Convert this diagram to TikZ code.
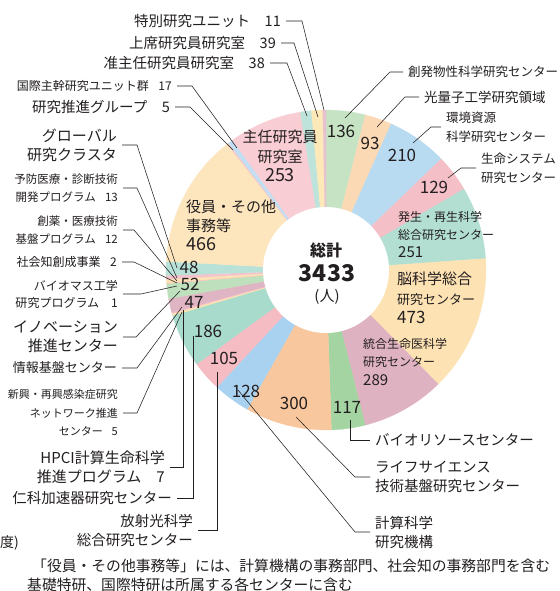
\documentclass[tikz,border=0pt]{standalone}
\usepackage{fontspec}
\setmainfont{Noto Sans CJK JP}
\definecolor{txt}{HTML}{231F20}
\definecolor{grnA}{HTML}{C6E4C4}
\definecolor{pchA}{HTML}{FCD9B5}
\definecolor{bluA}{HTML}{B9DBF1}
\definecolor{pnkA}{HTML}{F5BFC7}
\definecolor{telA}{HTML}{B2DFD2}
\definecolor{ylwA}{HTML}{FDE2B3}
\definecolor{mveA}{HTML}{DFB2C1}
\definecolor{grnB}{HTML}{A5D4A3}
\definecolor{orgA}{HTML}{F9C79D}
\definecolor{bluB}{HTML}{A9D2F0}
\definecolor{pnkB}{HTML}{F6BCC4}
\definecolor{telB}{HTML}{A8DBCC}
\definecolor{ylwB}{HTML}{FDE3B0}
\definecolor{pnkC}{HTML}{F4C0C8}
\definecolor{mveB}{HTML}{E0B5C3}
\definecolor{grnC}{HTML}{BFE0BD}
\definecolor{pchB}{HTML}{FCD9B5}
\definecolor{pnkD}{HTML}{F6BCC4}
\definecolor{ylwC}{HTML}{FDE2B3}
\definecolor{pnkE}{HTML}{F5C3CB}
\definecolor{telC}{HTML}{B8E2D8}
\definecolor{ylwD}{HTML}{FDE5BD}
\definecolor{pnkF}{HTML}{F5C6CC}
\definecolor{bluC}{HTML}{C2DEF3}
\definecolor{pnkG}{HTML}{F9CDD4}
\definecolor{telD}{HTML}{BDE3DA}
\definecolor{ylwE}{HTML}{FDE8B8}
\definecolor{mveC}{HTML}{E7C2CE}
\newcommand{\fs}[2]{\fontsize{#1}{#2}\selectfont}
\tikzstyle{lbl}=[inner sep=0pt,text=txt]
\tikzstyle{num}=[inner sep=0pt,text=txt,font=\fs{17}{17}]
\tikzstyle{lead}=[draw=txt,line width=0.55pt]

\begin{document}
\begin{tikzpicture}[x=1pt,y=-1pt]
    \useasboundingbox (0,0) rectangle (559,591);
    \fill[white] (0,0) rectangle (559,591);
    \coordinate (ctr) at (326,270);
    %Slices, clockwise from the top
    \def\cum{0}
    \foreach \val/\col in {136/grnA,93/pchA,210/bluA,129/pnkA,251/telA,473/ylwA,
                           289/mveA,117/grnB,300/orgA,128/bluB,105/pnkB,186/telB,
                           7/ylwB,5/pnkC,47/mveB,52/grnC,1/pchB,2/pnkD,12/ylwC,13/pnkE,
                           48/telC,466/ylwD,5/pnkF,17/bluC,253/pnkG,38/telD,39/ylwE,11/mveC}{
        \pgfmathsetmacro{\angA}{\cum/3433*360-90}
        \pgfmathsetmacro{\angB}{(\cum+\val)/3433*360-90}
        \filldraw[fill=\col,draw=\col,line width=0.2pt] (ctr) -- ++(\angA:160)
            arc[start angle=\angA,end angle=\angB,radius=160] -- cycle;
        \pgfmathtruncatemacro{\nxt}{\cum+\val}
        \xdef\cum{\nxt}
    }
    \fill[white] (ctr) circle[radius=63];
    %Total
    \node[lbl,font=\bfseries\fs{16}{16}] (sokei) at (326,250) {総計};
    \node[lbl,font=\bfseries\fs{23}{23}] (total) at (327,273) {3433};
    \node[lbl,font=\fs{15}{15}] (unit) at (327,297) {(人)};
    %Numbers on the ring
    \foreach \pos/\name/\txt in {{(341,131)/n136/136}, {(370,143)/n93/93}, {(402,155)/n210/210},
                                 {(434,187)/n129/129}, {(347,407)/n117/117}, {(294,403)/n300/300},
                                 {(246,391)/n128/128}, {(224,358)/n105/105}, {(208,331)/n186/186},
                                 {(194,302)/n47/47}, {(190,284)/n52/52}, {(189,267)/n48/48}}
    \node[num] (\name) at \pos {\txt};
    %Blocks inside the ring
    \node[lbl,align=center,font=\fs{15}{19.5}] (shunin) at (280,156)
        {主任研究員\\研究室\\{\fs{18}{18}253}};
    \node[lbl,align=left,anchor=west,font=\fs{15}{19}] (yakuin) at (186,225)
        {役員・その他\\事務等\\{\fs{18}{18}466}};
    \node[lbl,align=left,anchor=west,font=\fs{12}{18}] (hassei) at (398,235)
        {発生・再生科学\\総合研究センター\\{\fs{15}{15}251}};
    \node[lbl,align=left,anchor=west,font=\fs{13}{19.5}] (nou) at (397,298)
        {{\fs{15}{15}脳科学総合}\\研究センター\\{\fs{17}{17}473}};
    \node[lbl,align=left,anchor=west,font=\fs{12}{18.5}] (tougou) at (363,362)
        {統合生命医科学\\研究センター\\{\fs{15}{15}289}};
    %Labels above left
    \node[lbl,anchor=east,font=\fs{14.5}{18}] (tokubetsu) at (281,21) {特別研究ユニット\hspace{1em}11};
    \node[lbl,anchor=east,font=\fs{14.5}{18}] (joseki) at (276,43) {上席研究員研究室\hspace{1em}39};
    \node[lbl,anchor=east,font=\fs{14.5}{18}] (junshunin) at (265,63) {准主任研究員研究室\hspace{1em}38};
    \node[lbl,anchor=east,font=\fs{12}{16}] (kokusai) at (172,86) {国際主幹研究ユニット群\hspace{0.8em}17};
    \node[lbl,anchor=east,font=\fs{14.5}{18}] (suishin) at (170,107) {研究推進グループ\hspace{1em}5};
    %Labels left
    \node[lbl,anchor=east,align=right,font=\fs{15}{19}] (global) at (117,145) {グローバル\\研究クラスタ};
    \node[lbl,anchor=east,align=right,font=\fs{11.5}{18}] (yobou) at (118,188) {予防医療・診断技術\\開発プログラム\hspace{0.8em}13};
    \node[lbl,anchor=east,align=right,font=\fs{11.5}{18}] (souyaku) at (118,230) {創薬・医療技術\\基盤プログラム\hspace{0.8em}12};
    \node[lbl,anchor=east,font=\fs{12}{16}] (shakai) at (117,262) {社会知創成事業\hspace{0.8em}2};
    \node[lbl,anchor=east,align=right,font=\fs{12}{17}] (biomass) at (118,294) {バイオマス工学\\研究プログラム\hspace{1em}1};
    \node[lbl,anchor=east,align=right,font=\fs{15}{19}] (innov) at (118,337) {イノベーション\\推進センター};
    \node[lbl,anchor=east,font=\fs{13}{16}] (jouhou) at (117,368) {情報基盤センター};
    \node[lbl,anchor=east,align=right,font=\fs{11}{18.5}] (shinkou) at (118,413) {新興・再興感染症研究\\ネットワーク推進\\センター\hspace{0.8em}5};
    \node[lbl,anchor=east,align=right,font=\fs{15}{19}] (hpci) at (165,467) {HPCI計算生命科学\\推進プログラム\hspace{1em}7};
    \node[lbl,anchor=east,font=\fs{14.5}{18}] (nishina) at (172,498) {仁科加速器研究センター};
    \node[lbl,anchor=east,align=right,font=\fs{14.5}{19}] (houshakou) at (193,530) {放射光科学\\総合研究センター};
    \node[lbl,anchor=east,font=\fs{14}{18}] (nendo) at (19,543) {度)};
    %Labels right
    \node[lbl,anchor=west,font=\fs{12.5}{16}] (souhatsu) at (408,72) {創発物性科学研究センター};
    \node[lbl,anchor=west,font=\fs{13.5}{16}] (kouryoushi) at (424,97) {光量子工学研究領域};
    \node[lbl,anchor=west,align=left,font=\fs{12.5}{19}] (kankyou) at (446,127) {環境資源\\科学研究センター};
    \node[lbl,anchor=west,align=left,font=\fs{12.5}{19}] (seimei) at (481,168) {生命システム\\研究センター};
    \node[lbl,anchor=west,font=\fs{14.5}{18}] (bioresource) at (375,440) {バイオリソースセンター};
    \node[lbl,anchor=west,align=left,font=\fs{14.5}{19}] (lifesci) at (375,477) {ライフサイエンス\\技術基盤研究センター};
    \node[lbl,anchor=west,align=left,font=\fs{14.5}{19}] (keisan) at (375,532) {計算科学\\研究機構};
    %Notes
    \node[lbl,anchor=west,font=\fs{14.8}{18}] (note1) at (32,566) {「役員・その他事務等」には、計算機構の事務部門、社会知の事務部門を含む};
    \node[lbl,anchor=west,font=\fs{14.8}{18}] (note2) at (27,585) {基礎特研、国際特研は所属する各センターに含む};
    %Leader ends on the ring
    \coordinate (pTok) at (324,110);
    \coordinate (pJos) at (318,117);
    \coordinate (pJun) at (307,116);
    \coordinate (pKok) at (237,148);
    \coordinate (pSui) at (233,150);
    \coordinate (pGlo) at (177,268);
    \coordinate (pYob) at (177,278);
    \coordinate (pSou) at (177,281);
    \coordinate (pSha) at (177,283);
    \coordinate (pBio) at (177,286);
    \coordinate (pInn) at (180,291);
    \coordinate (pJou) at (182,307);
    \coordinate (pShi) at (182,312);
    \coordinate (pHpc) at (183,310);
    \coordinate (pNis) at (193,336);
    \coordinate (pHou) at (217,372);
    \coordinate (pSoh) at (345,118);
    \coordinate (pKou) at (377,127);
    \coordinate (pKan) at (413,143);
    \coordinate (pSei) at (448,178);
    \coordinate (pRes) at (350,420);
    \coordinate (pLif) at (296,417);
    \coordinate (pKei) at (238,390);
    %Leaders
    \foreach \lab/\tgt/\len in {tokubetsu/pTok/16, joseki/pJos/13, junshunin/pJun/17, kokusai/pKok/15,
                                suishin/pSui/15, global/pGlo/15, yobou/pYob/14, souyaku/pSou/11,
                                shakai/pSha/12, biomass/pBio/18, innov/pInn/13, jouhou/pJou/15,
                                shinkou/pShi/14}
    \draw[lead] ([xshift=5]\lab.east) -- ++(\len,0) -- (\tgt);
    \foreach \lab/\tgt/\len in {souhatsu/pSoh/13, kouryoushi/pKou/14, kankyou/pKan/10,
                                seimei/pSei/15, lifesci/pLif/15, keisan/pKei/15}
    \draw[lead] ([xshift=-5]\lab.west) -- ++(-\len,0) -- (\tgt);
    \draw[lead] ([xshift=5]hpci.east) -| (pHpc);
    \draw[lead] ([xshift=5]nishina.east) -| (pNis);
    \draw[lead] ([xshift=5]houshakou.east) -| (pHou);
    \draw[lead] ([xshift=-5]bioresource.west) -| (pRes);
\end{tikzpicture}
\end{document}
